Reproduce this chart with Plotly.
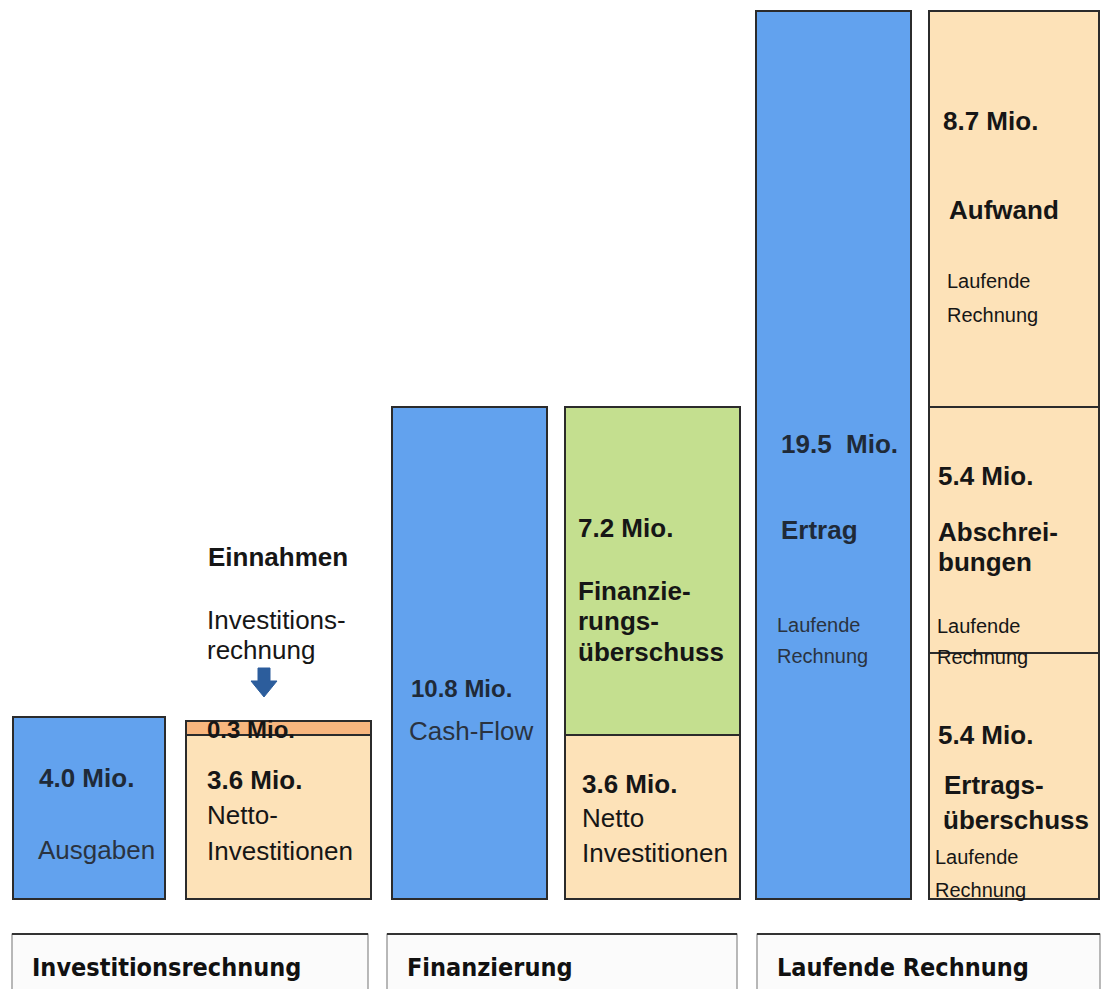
import plotly.graph_objects as go

# ---------------- data ----------------
bars = ["Ausgaben", "Einnahmen", "Cash-Flow", "Finanzierung", "Ertrag", "Aufwand"]
layer1 = [4.0, 3.6, 10.8, 3.6, 19.5, 5.4]
layer2 = [None, 0.3, None, 7.2, None, 5.4]
layer3 = [None, None, None, None, None, 8.7]
groups = ["Investitionsrechnung", "Finanzierung", "Laufende Rechnung"]

# ---------------- style ----------------
BLUE = "#62a2ee"
PEACH = "#fde2b8"
ORANGE = "#f8b67e"
GREEN = "#c4df8f"
EDGE = "#2b2b2b"
col1 = [BLUE, PEACH, BLUE, PEACH, BLUE, PEACH]
col2 = [PEACH, ORANGE, PEACH, GREEN, PEACH, PEACH]
col3 = [PEACH] * 6
widths = [0.822, 1.0, 0.838, 0.946, 0.838, 0.919]
offsets = [-0.411, -0.476, -0.362, -0.427, -0.395, -0.459]

W, H = 1102, 989
x = list(range(len(bars)))

fig = go.Figure()
for vals, cols in [(layer1, col1), (layer2, col2), (layer3, col3)]:
    fig.add_trace(go.Bar(
        x=x, y=vals, width=widths, offset=offsets,
        marker=dict(color=cols, line=dict(color=EDGE, width=1.6)),
        hoverinfo="skip", showlegend=False,
    ))

# pixel helpers (for axis range only)
X0PX, XPX = 90.0, 185.0
Y0PX, YPX = 900.0, 888.0 / 19.5
def px2x(p):
    return (p - X0PX) / XPX
def py2y(p):
    return (Y0PX - p) / YPX

FONT = "Liberation Sans, Arial, sans-serif"
NARROW = "DejaVu Sans Condensed, Liberation Sans, sans-serif"
DARK = "#161616"
annots = []
def txt(s, lx, cy, size=26, bold=False, color=DARK, family=FONT):
    annots.append(dict(
        x=lx / W, y=1 - cy / H, xref="paper", yref="paper",
        text=f"<b>{s}</b>" if bold else s, showarrow=False,
        xanchor="left", yanchor="middle",
        font=dict(family=family, size=size, color=color),
    ))

BIG = 26
REG = 26
SM = 20
# bar 1
txt("4.0 Mio.", 37, 778, BIG, True, "#1f2a38")
txt("Ausgaben", 36, 850, REG, False, "#2a3340")
# bar 2
txt("Einnahmen", 206, 557, BIG, True)
txt("Investitions-", 205, 620, REG)
txt("rechnung", 205, 650, REG)
txt("0.3 Mio.", 205, 729, 24, True)
txt("3.6 Mio.", 205, 780, BIG, True)
txt("Netto-", 205, 815, REG)
txt("Investitionen", 205, 851, REG)
# bar 3
txt("10.8 Mio.", 409, 688, 24, True, "#1f2a38")
txt("Cash-Flow", 407, 731, REG, False, "#2a3340")
# bar 4
txt("7.2 Mio.", 576, 528, BIG, True)
txt("Finanzie-", 576, 591, BIG, True)
txt("rungs-", 576, 621, BIG, True)
txt("überschuss", 576, 652, BIG, True)
txt("3.6 Mio.", 580, 784, BIG, True)
txt("Netto", 580, 818, REG)
txt("Investitionen", 580, 853, REG)
# bar 5
txt("19.5  Mio.", 779, 444, BIG, True, "#1f2a38")
txt("Ertrag", 779, 530, BIG, True, "#1f2a38")
txt("Laufende", 775, 625, SM, False, "#2a3340")
txt("Rechnung", 775, 656, SM, False, "#2a3340")
# bar 6
txt("8.7 Mio.", 941, 121, BIG, True)
txt("Aufwand", 947, 210, BIG, True)
txt("Laufende", 945, 281, SM)
txt("Rechnung", 945, 315, SM)
txt("5.4 Mio.", 936, 476, BIG, True)
txt("Abschrei-", 936, 532, BIG, True)
txt("bungen", 936, 562, BIG, True)
txt("Laufende", 935, 626, SM)
txt("Rechnung", 935, 657, SM)
txt("5.4 Mio.", 936, 735, BIG, True)
txt("Ertrags-", 942, 785, BIG, True)
txt("überschuss", 941, 820, BIG, True)
txt("Laufende", 933, 857, SM)
txt("Rechnung", 933, 890, SM)

# group labels + boxes
shapes = []
box_px = [(12, 368), (387, 737), (757, 1100)]
for name, (l, r) in zip(groups, box_px):
    shapes.append(dict(type="rect", xref="paper", yref="paper",
                       x0=l / W, x1=r / W, y0=1 - 1000 / H, y1=1 - 934 / H,
                       line=dict(color="#8a8a8a", width=1.2), fillcolor="#fbfbfb", layer="below"))
    shapes.append(dict(type="line", xref="paper", yref="paper",
                       x0=l / W, x1=r / W, y0=1 - 934 / H, y1=1 - 934 / H,
                       line=dict(color="#333333", width=2)))
    txt(name, l + 18, 967, 25, True, "#111111", NARROW)

# blue block arrow above orange segment
ax, at, ab = 264, 668, 697
def P(px, py):
    return f"{px / W:.5f},{1 - py / H:.5f}"
path = ("M " + P(ax - 6, at) + " L " + P(ax + 6, at) + " L " + P(ax + 6, at + 13) +
        " L " + P(ax + 13, at + 13) + " L " + P(ax, ab) + " L " + P(ax - 13, at + 13) +
        " L " + P(ax - 6, at + 13) + " Z")
shapes.append(dict(type="path", xref="paper", yref="paper", path=path,
                   fillcolor="#2c5d9c", line=dict(color="#2c5d9c", width=1)))

fig.update_layout(
    width=W, height=H,
    margin=dict(l=0, r=0, t=0, b=0),
    paper_bgcolor="white", plot_bgcolor="white",
    barmode="stack", bargap=0,
    xaxis=dict(range=[px2x(0), px2x(W)], visible=False, fixedrange=True),
    yaxis=dict(range=[py2y(H), py2y(0)], visible=False, fixedrange=True),
    annotations=annots, shapes=shapes,
)
fig.write_html("out.html", config={"displayModeBar": False},
               post_script="document.body.style.margin='0px';document.body.style.overflow='hidden';")
